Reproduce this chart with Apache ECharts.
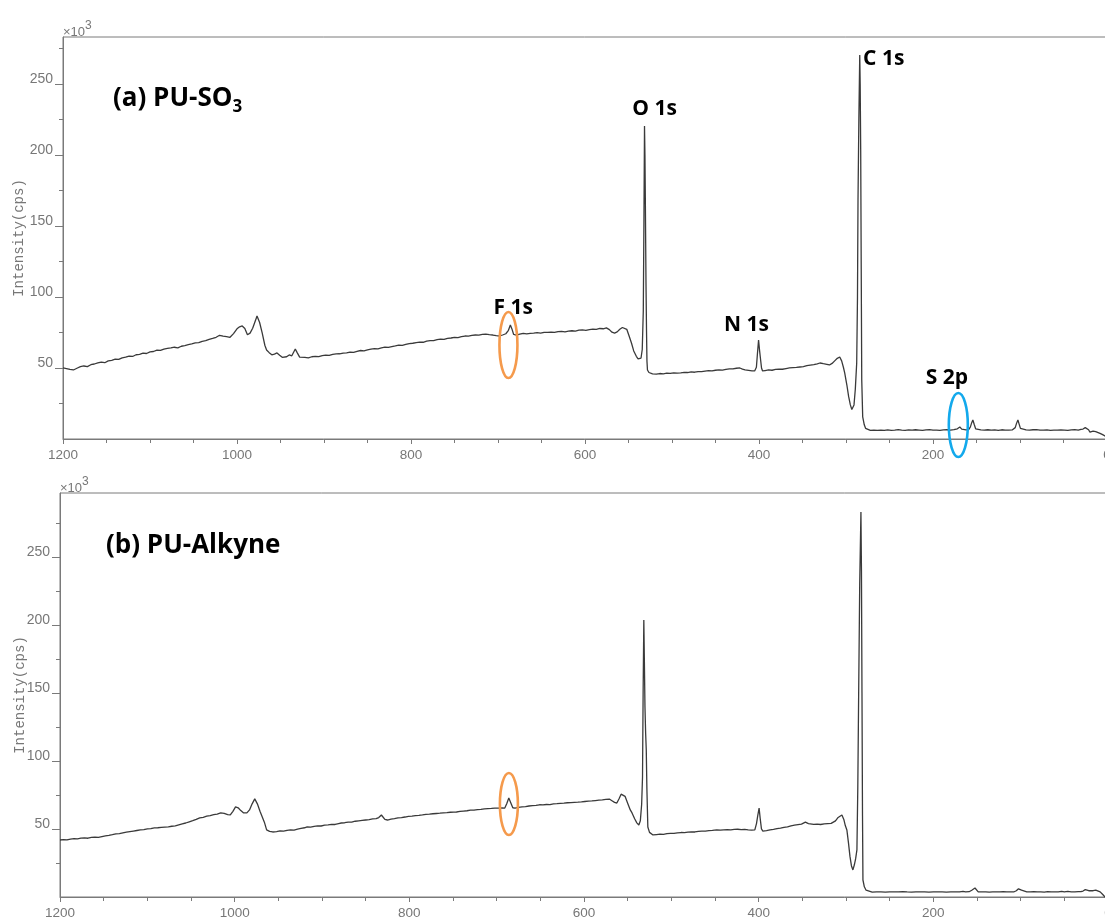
<!DOCTYPE html>
<html>
<head>
<meta charset="utf-8">
<script src="https://cdn.jsdelivr.net/npm/echarts@6/dist/echarts.min.js"></script>
<style>
  html, body { margin: 0; padding: 0; background: #ffffff; }
  #chart { width: 1105px; height: 919px; }
</style>
</head>
<body>
<div id="chart"></div>
<script>
// XPS survey spectra: [binding energy (eV), intensity (x10^3 cps)]
const puSO3 = [
  [1200,50.0],[1196,49.6],[1192,49.0],[1188,48.6],[1184,49.8],[1180,50.9],[1176,51.4],[1172,51.0],
  [1168,52.3],[1164,52.8],[1160,53.6],[1156,54.1],[1152,53.7],[1148,55.0],[1144,55.4],[1140,56.2],
  [1136,56.0],[1132,57.1],[1128,57.6],[1124,58.4],[1120,58.1],[1116,59.3],[1112,59.6],[1108,60.4],
  [1104,60.2],[1100,61.3],[1096,61.6],[1092,62.5],[1088,62.4],[1084,63.3],[1080,63.8],[1076,64.1],
  [1072,64.6],[1068,64.2],[1064,65.3],[1060,65.8],[1056,66.4],[1052,66.9],[1048,67.6],[1044,67.9],
  [1040,68.8],[1036,69.2],[1032,70.1],[1028,70.8],[1024,71.6],[1020,73.0],[1016,72.4],[1012,72.0],
  [1008,71.6],[1004,74.2],[1000,77.6],[997,79.0],[994,79.6],[991,77.8],[988,73.4],[985,74.5],
  [982,78.0],[979,83.0],[977,86.6],[974,82.0],[971,74.5],[968,66.0],[966,62.7],[963,60.8],
  [960,59.3],[957,59.8],[954,60.6],[951,59.0],[948,57.5],[946,57.0],[943,57.9],[940,59.2],
  [937,58.6],[935,60.0],[933,63.4],[931,61.0],[928,57.6],[926,56.8],[922,57.4],[918,57.1],
  [914,57.9],[910,58.2],[906,58.0],[902,58.7],[898,59.0],[894,58.8],[890,59.5],[886,59.9],
  [882,60.0],[878,60.4],[874,60.6],[870,61.2],[866,61.0],[862,61.7],[858,62.3],[854,62.1],
  [850,62.8],[846,63.2],[842,63.6],[838,63.4],[834,64.1],[830,64.6],[826,64.5],[822,65.0],
  [818,65.5],[814,66.1],[810,65.9],[806,66.6],[802,67.2],[798,67.4],[794,67.9],[790,68.2],
  [786,68.1],[782,68.9],[778,69.3],[774,69.2],[770,69.9],[766,70.3],[762,70.2],[758,70.9],
  [754,71.1],[750,71.6],[746,71.4],[742,72.0],[738,72.5],[734,72.4],[730,72.9],[726,73.2],
  [722,73.1],[718,73.6],[714,73.9],[710,73.5],[706,73.2],[702,72.8],[698,72.5],[694,73.4],
  [691,74.1],[688,76.5],[685.8,80.3],[684,77.5],[682,73.6],[679,73.2],[675,73.8],[671,74.3],
  [667,74.0],[663,74.4],[659,74.6],[655,74.9],[651,74.6],[647,75.1],[643,75.0],[639,75.3],
  [635,75.0],[631,75.6],[627,75.8],[623,75.4],[619,75.9],[615,76.2],[611,76.0],[607,76.6],
  [603,76.8],[599,76.5],[595,77.0],[591,77.3],[587,77.2],[583,77.8],[579,77.6],[575.4,78.2],
  [572,77.0],[569,75.2],[566,74.6],[563,75.4],[560,77.2],[557,78.5],[555,78.9],[552,77.2],
  [549,72.0],[546.6,67.6],[544,62.0],[541,58.2],[539,56.4],[537.4,55.6],[535.6,57.0],[534.2,63.0],
  [533.0,90.0],[532.3,150.0],[531.6,220.4],[531.1,200.0],[530.6,165.0],[529.9,110.0],[529.3,76.8],
  [528.8,55.0],[528.2,48.6],[526.5,46.8],[524.5,46.2],[522.4,45.8],[518,45.6],[514,46.1],[510,45.9],
  [506,46.3],[502,46.2],[498,46.6],[494,46.4],[490,46.5],[486,46.9],[482,46.8],[478,47.2],
  [474,47.0],[470,47.5],[466,47.4],[462,47.8],[458,48.1],[454,47.9],[450,48.4],[446,48.6],
  [442,48.5],[438,49.0],[434,49.3],[430,49.4],[426,49.8],[422,50.0],[419,49.2],[416,48.6],
  [412,48.3],[408,48.0],[405,47.9],[403,50.5],[401.8,60.0],[400.5,69.7],[399.3,62.0],[398.2,56.0],
  [397.1,50.0],[395.9,47.9],[393,48.2],[389,48.6],[385,48.4],[381,49.0],[377,49.2],[373,49.1],
  [369,49.6],[365,50.0],[361,50.2],[357,50.4],[353,50.7],[349,51.0],[345,51.6],[341,52.0],
  [337,52.4],[333,52.9],[330,53.5],[326,53.0],[322,52.6],[319,52.1],[316,53.2],[313,55.0],
  [310,56.8],[307.2,57.7],[305,55.0],[303,50.5],[301.5,46.5],[299,38.0],[297,30.0],[295,24.0],
  [293.3,20.8],[292.3,20.4],[290.8,24.0],[289.3,35.0],[287.7,53.5],[286.8,100.0],[286.2,168.0],
  [285.2,226.0],[284.2,270.4],[283.7,250.0],[283.1,203.0],[282.5,120.0],[281.9,41.5],[280.8,15.5],
  [279,10.0],[277.5,7.5],[276,6.3],[272,6.1],[268,6.3],[264,6.0],[260,6.2],[256,6.0],
  [252,6.4],[248,6.1],[244,6.3],[240,6.6],[236,6.2],[232,6.1],[228,6.4],[224,6.2],
  [220,6.5],[216,6.3],[212,6.1],[208,6.4],[204,6.6],[200,6.2],[196,6.3],[192,6.1],
  [188,6.4],[184,6.5],[180,6.2],[176,6.6],[172,7.2],[169.2,8.5],[167,6.9],[165.5,6.3],
  [162,6.4],[159,6.6],[157,8.5],[155.5,11.5],[154.2,13.4],[152.5,10.0],[151,7.2],[149.5,6.3],
  [145,6.4],[141,6.2],[137,6.5],[133,6.3],[129,6.4],[125,6.1],[121,6.5],[117,6.3],
  [113,6.2],[109,6.4],[105.5,8.0],[104,11.0],[102.4,13.4],[101,10.5],[99.5,7.5],[97.8,6.3],
  [93,6.4],[89,6.2],[85,6.5],[81,6.6],[77,6.3],[73,6.2],[69,6.4],[65,6.1],
  [61,6.3],[57,6.2],[53,6.4],[49,6.3],[45,6.1],[41,6.4],[37,6.6],[33,6.3],
  [30,6.8],[27.6,7.0],[25,8.0],[23,8.5],[21.2,6.5],[19.6,4.9],[16,5.6],[13,5.2],
  [11.5,4.9],[8,4.0],[5,3.1],[2.3,2.1],[0,1.6]
];

const puAlkyne = [
  [1200,41.9],[1196,42.2],[1192,42.0],[1188,42.6],[1184,42.9],[1180,42.7],[1176,43.3],[1172,43.4],
  [1168,43.2],[1164,43.8],[1160,44.0],[1156,43.9],[1152,44.4],[1148,44.9],[1144,45.3],[1140,45.8],
  [1136,46.4],[1132,46.6],[1128,47.2],[1124,47.7],[1120,48.1],[1116,48.5],[1112,48.9],[1108,49.3],
  [1104,49.6],[1100,50.1],[1096,50.3],[1092,50.8],[1088,50.9],[1084,51.2],[1080,51.4],[1076,51.6],
  [1072,52.0],[1068,52.3],[1064,53.0],[1060,53.7],[1056,54.4],[1052,55.3],[1048,56.1],[1044,57.0],
  [1040,58.1],[1036,58.6],[1032,59.4],[1028,59.9],[1024,60.5],[1020,61.0],[1016,61.8],[1012,61.5],
  [1008,60.6],[1005,60.3],[1002,63.0],[999,66.2],[996,65.6],[993,63.5],[990,61.9],[986,61.8],
  [983,64.0],[980,68.5],[977,72.1],[974,68.5],[971,63.0],[969,61.8],[966,55.0],[963.4,49.3],
  [960,48.2],[956.5,47.8],[952,48.1],[948,48.6],[944,48.4],[940,49.0],[936,49.3],[932,49.2],
  [928,49.9],[924,50.4],[920,50.9],[917,51.5],[913,51.4],[909,51.9],[905,52.3],[901,52.2],
  [897,52.8],[893,53.0],[889,53.4],[885,53.3],[881,54.0],[878,54.4],[874,54.6],[870,55.1],
  [866,55.0],[862,55.7],[858,56.0],[854,56.3],[850,56.6],[846,56.9],[842,57.4],[838,57.6],
  [835,58.4],[832,60.3],[830,59.0],[828,57.0],[825,56.6],[821,57.2],[817,57.6],[813,58.2],
  [809,58.4],[805,58.8],[801,59.3],[797,59.5],[793,59.8],[789,60.0],[785,60.3],[781,60.7],
  [777,60.9],[773,61.2],[769,61.4],[765,61.6],[761,61.9],[757,62.0],[753,62.3],[749,62.4],
  [746,62.5],[742,62.9],[738,63.2],[734,63.4],[730,63.8],[726,63.9],[722,64.3],[718,64.4],
  [714,64.8],[710,65.0],[706,65.1],[702,65.4],[698,65.3],[694,65.5],[690.7,65.4],[688.5,68.5],
  [686.1,72.8],[684,69.5],[681.5,65.6],[679,65.4],[675,65.9],[671,66.2],[667,66.5],[663,66.9],
  [659,67.2],[655,67.4],[651,67.8],[647,67.7],[643,68.0],[639,67.9],[635,68.4],[631,68.6],
  [627,68.9],[623,69.0],[619,69.3],[615,69.4],[611,69.6],[607,69.7],[603,69.9],[599,70.2],
  [595,70.5],[591,70.6],[587,70.9],[583,71.2],[579,71.4],[575,71.7],[571,72.0],[568,70.8],
  [565,69.6],[562.4,69.1],[560,72.0],[557.5,75.6],[555.6,76.5],[553,74.0],[550,69.0],[547,64.0],
  [545,61.8],[542,57.5],[539.5,54.5],[537.2,52.9],[535.5,56.0],[534,68.0],[533,88.0],[532.3,150.0],
  [531.5,203.7],[530.9,175.0],[530.2,140.0],[529.4,120.0],[528.7,108.0],[528.0,80.0],[526.9,51.5],
  [525,47.5],[523,46.2],[521,45.6],[517,45.9],[513,46.2],[509,46.1],[505,46.6],[501,46.8],
  [497,46.7],[493,47.1],[489,47.4],[485,47.3],[481,47.7],[477,47.9],[473,47.8],[469,48.3],
  [465,48.5],[461,48.4],[457,48.8],[453,49.0],[448,49.3],[444,49.1],[440,49.4],[436,49.6],
  [432,49.3],[428,49.7],[424,49.8],[420,49.5],[416,49.7],[412,49.4],[408,49.2],[404.4,49.3],
  [402.5,54.0],[401,60.0],[399.5,65.4],[398.3,58.0],[396.8,50.0],[395.2,48.5],[391,48.8],[387,49.4],
  [383,49.7],[379,50.3],[375,50.6],[371,51.2],[367,51.5],[363,52.3],[359,52.8],[355,53.2],
  [351,53.6],[349,54.4],[346.5,55.0],[344.8,55.9],[343,54.0],[341.4,52.9],[337,53.4],[333,53.6],
  [329,53.3],[325,53.8],[321,54.0],[317,54.1],[315,54.4],[312,56.0],[309,58.5],[307,59.9],
  [304.7,60.3],[302.5,57.0],[300.8,52.5],[299,49.3],[297.2,40.0],[295.5,30.0],[293.8,23.0],[292.1,19.9],
  [290.5,23.5],[289,28.0],[287.5,34.6],[286.5,80.0],[285.5,150.0],[284.3,230.0],[282.9,283.0],[282.3,240.0],
  [281.7,150.0],[281.1,60.0],[280.6,12.5],[279,7.5],[277,5.0],[274.9,3.7],[270,3.6],[265,3.8],
  [260,3.7],[255,3.6],[250,3.8],[245,3.7],[240,3.7],[235,3.9],[230,3.7],[225,3.6],
  [220,3.8],[215,3.7],[210,3.8],[205,3.6],[200,3.7],[195,3.8],[190,3.7],[185,3.6],
  [180,3.8],[175,3.7],[170,3.8],[166,4.2],[163,3.8],[159,3.9],[156,5.0],[154,6.2],
  [152.3,6.6],[150.5,5.4],[148.6,3.8],[144,3.7],[140,3.8],[136,3.6],[132,3.7],[128,3.8],
  [124,3.7],[120,3.9],[116,3.7],[112,3.8],[108,3.7],[105,4.6],[102.5,6.0],[100.8,6.6],
  [99,5.0],[97.4,3.7],[93,3.8],[89,3.7],[85,3.9],[81,3.7],[77,3.8],[73,3.6],
  [69,3.9],[65,3.7],[61,3.8],[57,3.8],[53,4.2],[50,3.8],[46,4.1],[42,3.8],
  [38,3.7],[34,3.9],[31,4.0],[28.6,4.4],[26,5.4],[24.1,5.9],[22,4.6],[20.6,3.7],
  [17,4.6],[14,5.1],[12,5.0],[9,3.8],[6,1.8],[3.4,0.0],[0,0.0]
];

const yLabelValues = [50, 100, 150, 200, 250];
const panelTitles = ['(a) PU-SO{sub|3}', '(b) PU-Alkyne'];
const peakNames = ['O 1s', 'C 1s', 'F 1s', 'N 1s', 'S 2p'];
const yAxisTitle = 'Intensity(cps)';

// ---- styling / layout ----
const AXIS = '#7a7a7a';
const TXT = '#777777';
const TRACE = '#3a3a3a';
const BOLD_FONT = '"Open Sans", "Liberation Sans", sans-serif';

const panels = [
  { grid: { left: 63, top: 37, right: -2, height: 402 }, max: 283, nameGap: 37 },
  { grid: { left: 60, top: 493, right: -3, height: 404 }, max: 297, nameGap: 33 }
];

function xAxisFor(i) {
  return {
    gridIndex: i, type: 'value', inverse: true, min: 0, max: 1200, interval: 200,
    axisLine: { show: true, onZero: false, lineStyle: { color: AXIS, width: 1 } },
    axisTick: { show: true, length: 5, lineStyle: { color: AXIS } },
    minorTick: { show: true, splitNumber: 4, length: 4, lineStyle: { color: AXIS } },
    splitLine: { show: false }, minorSplitLine: { show: false },
    axisLabel: { color: TXT, fontFamily: 'Liberation Sans', fontSize: 13.5, margin: 9,
                 showMinLabel: true, showMaxLabel: true, hideOverlap: false,
                 formatter: v => String(v) }
  };
}

function yAxisFor(i) {
  return {
    gridIndex: i, type: 'value', min: 0, max: panels[i].max, interval: 50,
    axisLine: { show: true, onZero: false, lineStyle: { color: AXIS, width: 1 } },
    axisTick: { show: true, length: 8, customValues: yLabelValues, lineStyle: { color: AXIS } },
    minorTick: { show: true, splitNumber: 2, length: 4, lineStyle: { color: AXIS } },
    splitLine: { show: false }, minorSplitLine: { show: false },
    axisLabel: { customValues: yLabelValues, color: TXT, fontFamily: 'Liberation Sans', fontSize: 14,
                 margin: 10, verticalAlign: 'bottom', lineHeight: 9, formatter: v => String(v) },
    name: yAxisTitle, nameLocation: 'middle', nameGap: panels[i].nameGap, nameMoveOverlap: false,
    nameTextStyle: { fontFamily: 'Liberation Mono', fontSize: 14, color: TXT }
  };
}

const option = {
  animation: false,
  backgroundColor: '#ffffff',
  grid: panels.map(p => Object.assign({ show: true, borderColor: AXIS, borderWidth: 1,
                                        backgroundColor: 'transparent',
                                        containLabel: false, outerBoundsMode: 'none' }, p.grid)),
  xAxis: [xAxisFor(0), xAxisFor(1)],
  yAxis: [yAxisFor(0), yAxisFor(1)],
  series: [
    { name: 'PU-SO3', type: 'line', xAxisIndex: 0, yAxisIndex: 0, data: puSO3,
      showSymbol: false, symbol: 'none', lineStyle: { color: TRACE, width: 1.3 } },
    { name: 'PU-Alkyne', type: 'line', xAxisIndex: 1, yAxisIndex: 1, data: puAlkyne,
      showSymbol: false, symbol: 'none', lineStyle: { color: TRACE, width: 1.3 } }
  ]
};

const chart = echarts.init(document.getElementById('chart'), null, { renderer: 'canvas' });
chart.setOption(option);

// annotation anchors in data space: [grid, binding energy, intensity]
const peakAnchors = [[0, 520, 232], [0, 256.6, 267.6], [0, 682.4, 92.3], [0, 414.3, 80.3], [0, 184.1, 43]];
const rings = [
  { grid: 0, at: [688, 66.2], rx: 9, ry: 33, color: '#F59A4C' },
  { grid: 1, at: [686, 68.4], rx: 9, ry: 31, color: '#F59A4C' },
  { grid: 0, at: [170.9, 9.9], rx: 9.5, ry: 32, color: '#13A9EC' }
];

const px = (g, pt) => chart.convertToPixel({ gridIndex: g }, pt);
const graphics = [];

panelTitles.forEach((t, i) => {
  const g = panels[i].grid;
  graphics.push({
    type: 'text', x: i === 0 ? 113 : 106, y: g.top + (i === 0 ? 62 : 53), z: 10,
    style: {
      text: t, fill: '#000', textAlign: 'left', textVerticalAlign: 'middle',
      fontFamily: BOLD_FONT, fontWeight: 'bold', fontSize: 26, lineHeight: 34,
      rich: { sub: { fontFamily: BOLD_FONT, fontWeight: 'bold', fontSize: 17, lineHeight: 16,
                     verticalAlign: 'bottom', fill: '#000' } }
    }
  });
  graphics.push({
    type: 'text', x: g.left, y: g.top - 5, z: 10,
    style: {
      text: '×10{sup|3}', fill: TXT, textAlign: 'left', textVerticalAlign: 'middle',
      fontFamily: 'Liberation Sans', fontSize: 13, lineHeight: 24,
      rich: { sup: { fontFamily: 'Liberation Sans', fontSize: 12, lineHeight: 7,
                     verticalAlign: 'top', fill: TXT } }
    }
  });
});

peakNames.forEach((name, k) => {
  const a = peakAnchors[k];
  const p = px(a[0], [a[1], a[2]]);
  graphics.push({
    type: 'text', x: p[0], y: p[1], z: 10,
    style: { text: name, fill: '#000', textAlign: 'center', textVerticalAlign: 'middle',
             fontFamily: BOLD_FONT, fontWeight: 'bold', fontSize: 21 }
  });
});

rings.forEach(r => {
  const c = px(r.grid, r.at);
  graphics.push({
    type: 'ellipse', z: 10,
    shape: { cx: c[0], cy: c[1], rx: r.rx, ry: r.ry },
    style: { fill: 'none', stroke: r.color, lineWidth: 2.6 }
  });
});

chart.setOption({ graphic: graphics });
</script>
</body>
</html>
